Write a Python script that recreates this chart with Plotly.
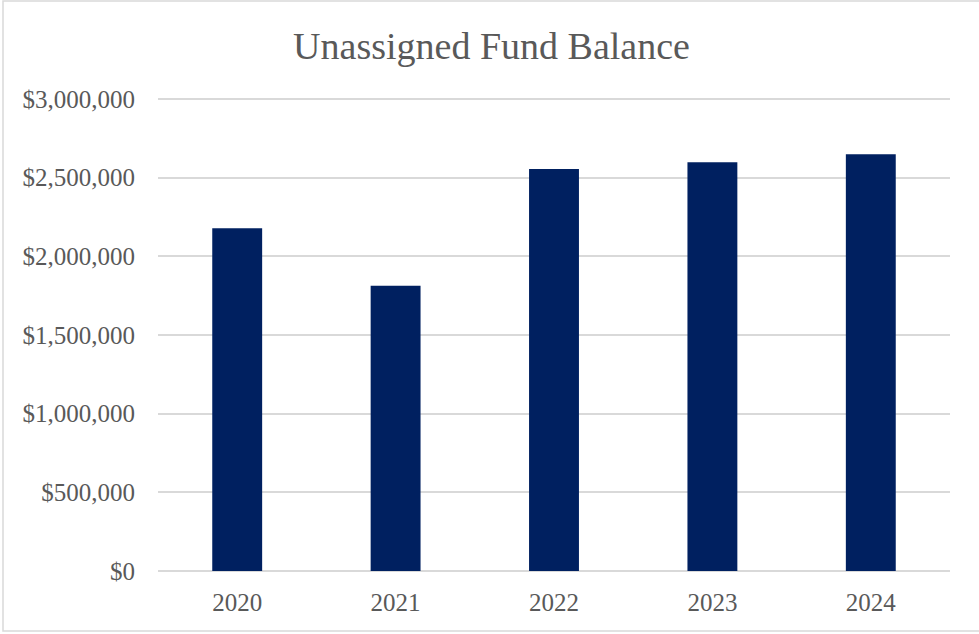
import plotly.graph_objects as go

# Unassigned fund balance by fiscal year
years = ["2020", "2021", "2022", "2023", "2024"]
balances = [2178000, 1812000, 2555000, 2597000, 2648000]

tick_values = [0, 500000, 1000000, 1500000, 2000000, 2500000, 3000000]
tick_labels = ["$0", "$500,000", "$1,000,000", "$1,500,000",
               "$2,000,000", "$2,500,000", "$3,000,000"]

W, H = 979, 634
L, R, T, B = 158, 29, 97, 63
plot_w = W - L - R
plot_h = H - T - B
Y_MAX = 3012000  # a little headroom so the top gridline is not clipped

FONT = "Liberation Serif"
TEXT = "#595959"
GRID = "#d9d9d9"

fig = go.Figure(
    go.Bar(
        x=years,
        y=balances,
        marker=dict(color="#002060", line=dict(width=0)),
        hoverinfo="x+y",
    )
)

# outer chart border, expressed in paper coordinates
def px_to_paper_x(px):
    return (px - L) / plot_w

def px_to_paper_y(py):
    return (H - B - py) / plot_h

fig.add_shape(
    type="rect", xref="paper", yref="paper",
    x0=px_to_paper_x(3), x1=px_to_paper_x(982),
    y0=px_to_paper_y(631), y1=px_to_paper_y(1),
    line=dict(color=GRID, width=1.5), fillcolor="rgba(0,0,0,0)",
    layer="below",
)

fig.update_layout(
    width=W, height=H,
    margin=dict(l=L, r=R, t=T, b=B, pad=0),
    paper_bgcolor="white",
    plot_bgcolor="white",
    bargap=0.685,
    showlegend=False,
    title=dict(
        text="Unassigned Fund Balance",
        x=(290 + 693) / 2 / W, xanchor="center",
        y=1 - 46 / H, yanchor="middle",
        font=dict(family=FONT, size=38, color=TEXT),
    ),
    xaxis=dict(
        showgrid=False,
        showline=False,
        ticks="",
        ticklabelstandoff=14,
        tickfont=dict(family=FONT, size=25, color=TEXT),
    ),
    yaxis=dict(
        range=[0, Y_MAX],
        tickvals=tick_values,
        ticktext=tick_labels,
        showgrid=True,
        gridcolor=GRID,
        gridwidth=1.5,
        zeroline=True,
        zerolinecolor=GRID,
        zerolinewidth=1.5,
        showline=False,
        ticks="",
        ticklabelstandoff=22,
        tickfont=dict(family=FONT, size=25, color=TEXT),
    ),
)

fig.write_html("out.html")
